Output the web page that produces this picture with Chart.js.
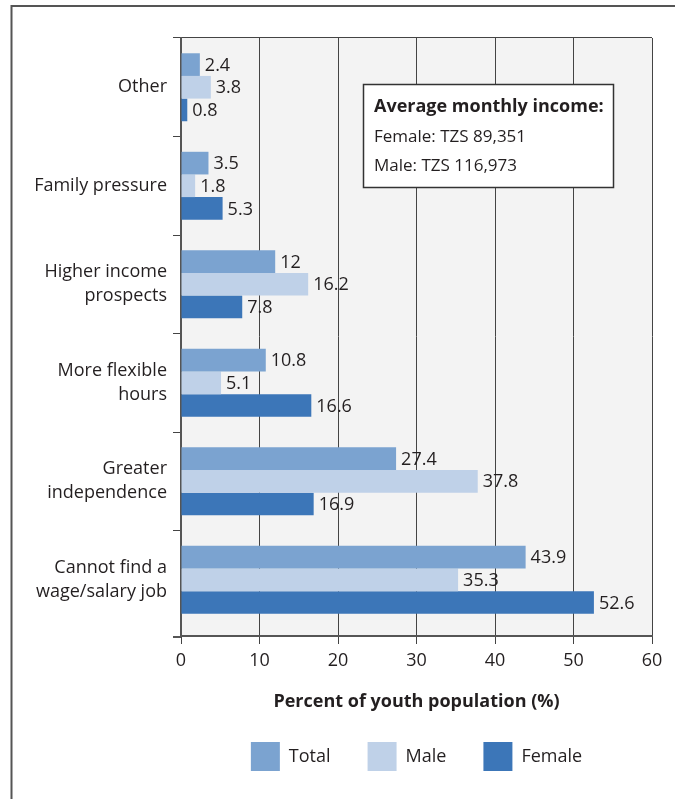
<!DOCTYPE html>
<html>
<head>
<meta charset="utf-8">
<script src="https://cdn.jsdelivr.net/npm/chart.js@4"></script>
<style>
  body { margin: 0; background: #fff; }
  canvas { display: block; }
</style>
</head>
<body>
<canvas id="chart" width="675" height="799"></canvas>
<script>
// data
const reasons = [
    'Other',
    'Family pressure',
    ['Higher income', 'prospects'],
    ['More flexible', 'hours'],
    ['Greater', 'independence'],
    ['Cannot find a', 'wage/salary job']
];
const total  = [2.4, 3.5, 12, 10.8, 27.4, 43.9];
const male   = [3.8, 1.8, 16.2, 5.1, 37.8, 35.3];
const female = [0.8, 5.3, 7.8, 16.6, 16.9, 52.6];
const xTicks = [0, 10, 20, 30, 40, 50, 60];
const boxLines = ['Average monthly income:', 'Female: TZS 89,351', 'Male: TZS 116,973'];

const FONT = "'Open Sans', sans-serif";
const INK = '#231f20';

// background, frame, value labels, income box
const extras = {
    id: 'extras',
    beforeDraw(chart) {
        const { ctx, chartArea: a } = chart;
        ctx.save();
        ctx.fillStyle = '#f3f3f3';
        ctx.fillRect(a.left, a.top, a.right - a.left, a.bottom - a.top);
        ctx.strokeStyle = '#555';
        ctx.lineWidth = 2;
        ctx.beginPath();
        ctx.moveTo(11.5, 800);
        ctx.lineTo(11.5, 6);
        ctx.lineTo(676, 6);
        ctx.stroke();
        ctx.restore();
    },
    afterDraw(chart) {
        // x axis line runs a bit past the y axis
        const { ctx, chartArea: a } = chart;
        ctx.save();
        ctx.strokeStyle = '#555';
        ctx.lineWidth = 2;
        ctx.beginPath();
        ctx.moveTo(a.left - 8, a.bottom + 1);
        ctx.lineTo(a.left, a.bottom + 1);
        ctx.stroke();
        ctx.restore();
    },
    afterDatasetsDraw(chart) {
        const { ctx } = chart;
        ctx.save();
        ctx.font = '18px ' + FONT;
        ctx.fillStyle = INK;
        ctx.textBaseline = 'middle';
        chart.data.datasets.forEach((ds, i) => {
            chart.getDatasetMeta(i).data.forEach((bar, j) => {
                ctx.fillText(String(ds.data[j]), bar.x + 5, bar.y + 1);
            });
        });
        // income box
        ctx.fillStyle = '#fff';
        ctx.fillRect(363, 84, 251, 104);
        ctx.strokeStyle = '#333';
        ctx.lineWidth = 1.5;
        ctx.strokeRect(363.5, 84.5, 250, 103);
        ctx.fillStyle = INK;
        ctx.font = 'bold 18px ' + FONT;
        ctx.fillText(boxLines[0], 374, 107);
        ctx.font = '17px ' + FONT;
        ctx.fillText(boxLines[1], 374, 137);
        ctx.fillText(boxLines[2], 374, 166);
        ctx.restore();
    }
};

new Chart(document.getElementById('chart').getContext('2d'), {
    type: 'bar',
    data: {
        labels: reasons,
        datasets: [
            { label: 'Total',  data: total,  backgroundColor: '#7ba3d0' },
            { label: 'Male',   data: male,   backgroundColor: '#bfd1e8' },
            { label: 'Female', data: female, backgroundColor: '#3c76b8' }
        ]
    },
    options: {
        indexAxis: 'y',
        responsive: false,
        animation: false,
        devicePixelRatio: 1,
        categoryPercentage: 0.69,
        barPercentage: 1,
        layout: { padding: { left: 12, right: 23, top: 38, bottom: 18 } },
        scales: {
            x: {
                min: 0,
                max: 60,
                afterBuildTicks: s => { s.ticks = xTicks.map(v => ({ value: v })); },
                afterFit: s => { s.height = 69; },
                grid: { color: '#444', lineWidth: 1, tickLength: 8, tickColor: '#444' },
                border: { color: '#555', width: 2 },
                ticks: { color: INK, font: { family: FONT, size: 18 }, padding: 6 },
                title: {
                    display: true,
                    text: 'Percent of youth population (%)',
                    color: INK,
                    font: { family: FONT, size: 18, weight: 'bold', lineHeight: 0.4 },
                    padding: 0
                }
            },
            y: {
                // a little empty room below the last group, as in the source
                afterBuildTicks: s => { s._valueRange += 0.07; },
                afterFit: s => { s.width = 169; },
                grid: {
                    offset: true,
                    tickLength: 8,
                    tickColor: c => c.type === 'tick' ? '#444' : 'rgba(0,0,0,0)',
                    color: c => c.index === 0 ? '#444' : 'rgba(0,0,0,0)'
                },
                border: { color: '#555', width: 2 },
                ticks: { color: INK, font: { family: FONT, size: 18, lineHeight: 1.33 }, padding: 6 }
            }
        },
        plugins: {
            tooltip: { enabled: false },
            legend: {
                position: 'bottom',
                fullSize: false,
                labels: {
                    boxWidth: 29,
                    boxHeight: 29,
                    padding: 37,
                    color: INK,
                    font: { family: FONT, size: 18 }
                }
            }
        }
    },
    plugins: [extras]
});
</script>
</body>
</html>
